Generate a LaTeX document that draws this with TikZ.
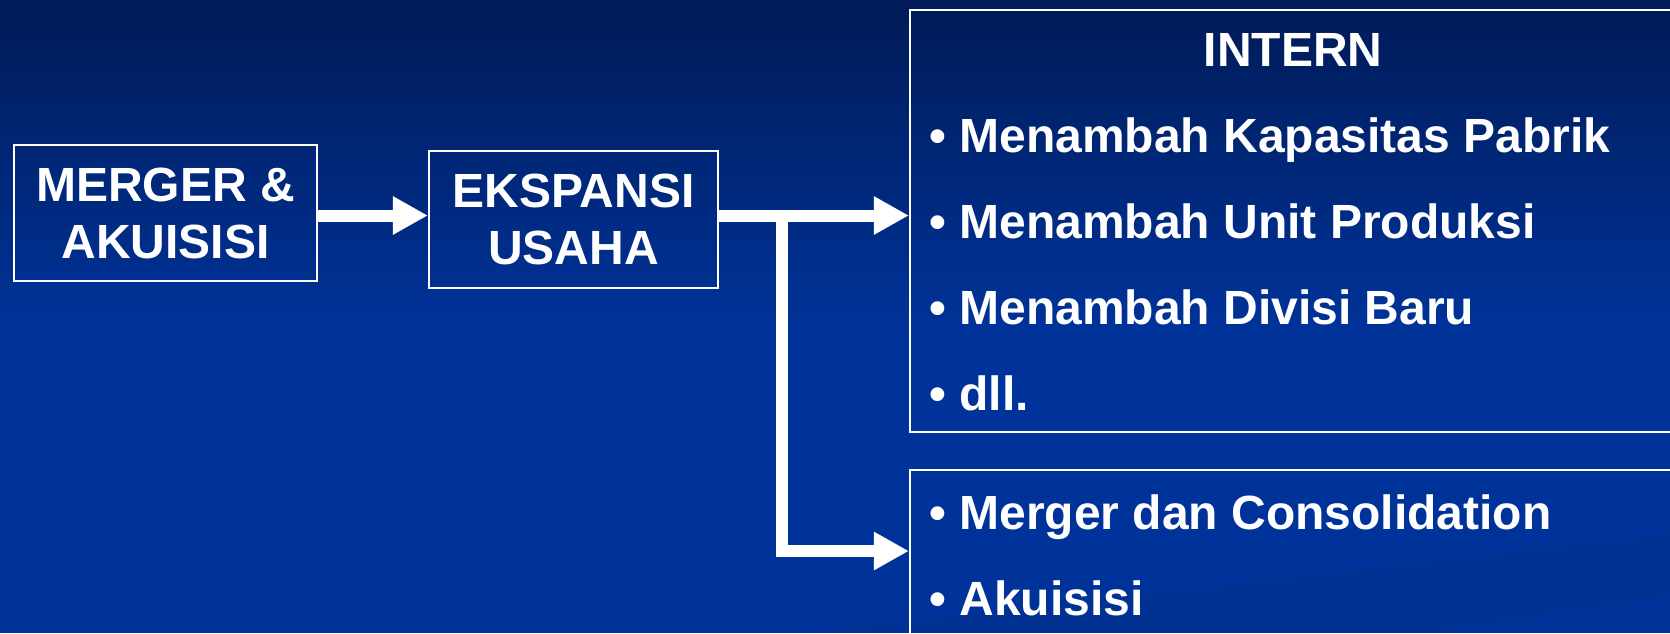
\documentclass[tikz,border=0pt]{standalone}
\usepackage{fontspec}
\setmainfont{Liberation Sans}
\usetikzlibrary{arrows.meta}

\definecolor{slidetop}{RGB}{0,27,87}
\definecolor{slideblue}{RGB}{0,51,153}

\begin{document}
\begin{tikzpicture}[
    x=0.5pt, y=-0.5pt,
    box/.style={draw=white, line width=1.1pt, inner sep=0pt, align=center, text=white,
        font=\fontsize{24}{28.5}\selectfont\bfseries},
    item/.style={anchor=base west, inner sep=0pt, text=white, font=\fontsize{24}{28.5}\selectfont\bfseries},
    flow/.style={-{Triangle[length=17.5pt, width=18pt]}, line width=6pt, white, line join=miter},
]

% === Latar belakang ===
\useasboundingbox (0,0) rectangle (1670,633);
\clip (0,0) rectangle (1670,633);
\shade[top color=slidetop, bottom color=slideblue] (0,0) rectangle (1670,330);
\fill[slideblue] (0,329) rectangle (1670,633);
\fill[black, opacity=0.035] (800,633) -- (1670,533) -- (1670,597) -- (1433,633) -- cycle;

% === Kotak ===
\node[box, minimum width=151.5pt, minimum height=68pt] (merger) at (165.5,213) {MERGER \&\\AKUISISI};
\node[box, minimum width=144.5pt, minimum height=68.5pt] (ekspansi) at (573.5,219.5) {EKSPANSI\\USAHA};
\node[box, minimum width=383pt, minimum height=211pt] (intern) at (1293,221) {};
\node[box, minimum width=383pt, minimum height=115pt] (ekstern) at (1293,585) {};

% === Isi kotak intern ===
\node[item, anchor=base] (judul) at (1293,66) {INTERN};
\foreach \txt [count=\i from 0] in {Menambah Kapasitas Pabrik, Menambah Unit Produksi, Menambah Divisi Baru, dll.} {
    \node[item] (int\i) at (929,{152+86.3*\i}) {\textbullet\ \txt};
}

% === Isi kotak ekstern ===
\node[item] (eks0) at (929,529) {\textbullet\ Merger dan Consolidation};
\node[item] (eks1) at (929,615) {\textbullet\ Akuisisi};

% === Panah ===
\coordinate (row) at (0,215.5);
\coordinate (cabang) at (782,215.5);
\coordinate (bawah) at (0,551);
\draw[flow] (merger.east |- row) -- (ekspansi.west |- row);
\draw[flow] (ekspansi.east |- row) -- (intern.west |- row);
\draw[flow] (cabang) -- (cabang |- bawah) -- (ekstern.west |- bawah);

\end{tikzpicture}
\end{document}
